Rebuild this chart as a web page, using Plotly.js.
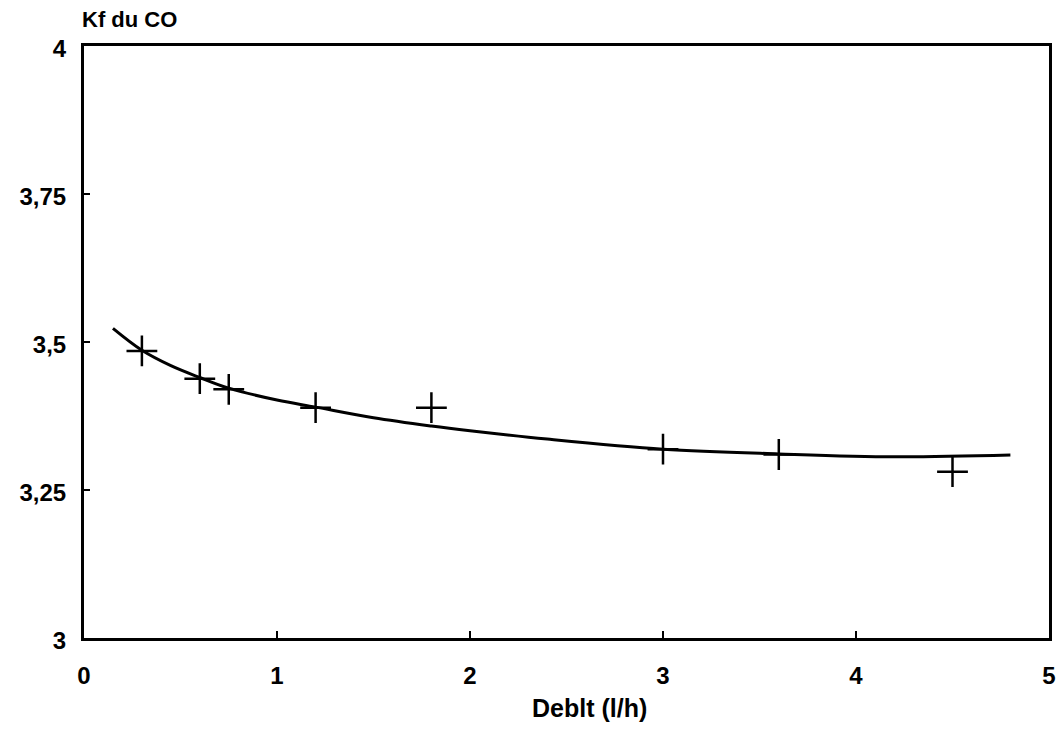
<!DOCTYPE html>
<html>
<head>
<meta charset="utf-8">
<script src="https://cdn.plot.ly/plotly-3.0.1.min.js"></script>
<style>html,body{margin:0;padding:0;background:#fff;}#chart{width:1063px;height:730px;}</style>
</head>
<body>
<div id="chart"></div>
<script>
// Measured points
const debitPoints = [0.3, 0.6, 0.75, 1.2, 1.8, 3.0, 3.6, 4.5];
const kfPoints = [3.485, 3.438, 3.42, 3.389, 3.389, 3.319, 3.31, 3.281];
// Fitted curve
const debitCurve = [0.15, 0.3, 0.45, 0.6, 0.75, 1.0, 1.2, 1.5, 1.8, 2.0, 2.4, 3.0, 3.6, 4.2, 4.8];
const kfCurve = [3.523, 3.486, 3.46, 3.44, 3.422, 3.402, 3.39, 3.372, 3.358, 3.35, 3.336, 3.319, 3.311, 3.306, 3.309];
// Axis ticks
const xTickVals = [0, 1, 2, 3, 4, 5];
const xTickText = ["0", "1", "2", "3", "4", "5"];
const yTickVals = [3, 3.25, 3.5, 3.75, 4];
const yTickText = ["3", "3,25", "3,5", "3,75", "4"];

const font = {family: "Liberation Sans, Arial, sans-serif", color: "#000"};

const traces = [
  {x: debitCurve, y: kfCurve, mode: "lines", line: {color: "#000", width: 3, shape: "spline"}, hoverinfo: "skip", showlegend: false},
  {x: debitPoints, y: kfPoints, mode: "markers", marker: {symbol: "cross-thin-open", size: 22, color: "#000", line: {color: "#000", width: 2.5}}, showlegend: false}
];

const layout = {
  width: 1063, height: 730,
  margin: {l: 84, r: 14, t: 46, b: 92},
  paper_bgcolor: "#fff", plot_bgcolor: "#fff",
  separators: ", ",
  showlegend: false,
  xaxis: {
    range: [0, 5], tickvals: xTickVals, ticktext: xTickText,
    showgrid: false, zeroline: false, showline: true, linecolor: "#000", linewidth: 3, mirror: true,
    ticks: "inside", ticklen: 7, tickwidth: 2, tickcolor: "#000",
    ticklabelstandoff: 14,
    tickfont: Object.assign({size: 24, weight: "bold"}, font)
  },
  yaxis: {
    range: [3, 4], tickvals: yTickVals, ticktext: yTickText,
    showgrid: false, zeroline: false, showline: true, linecolor: "#000", linewidth: 3, mirror: true,
    ticks: "inside", ticklen: 6, tickwidth: 2, tickcolor: "#000",
    ticklabelstandoff: 10, ticklabelshift: 3,
    tickfont: Object.assign({size: 24, weight: "bold"}, font)
  },
  annotations: [
    {text: "Kf du CO", xref: "paper", yref: "paper", x: -0.004, y: 1, xanchor: "left", yanchor: "bottom",
     yshift: 12, showarrow: false, font: Object.assign({size: 22, weight: "bold"}, font)},
    {text: "Deblt (l/h)", xref: "paper", yref: "paper", x: 0.524, y: 0, xanchor: "center", yanchor: "top",
     yshift: -54, showarrow: false, font: Object.assign({size: 25, weight: "bold"}, font)}
  ]
};

Plotly.newPlot("chart", traces, layout, {displayModeBar: false, staticPlot: true});
</script>
</body>
</html>
